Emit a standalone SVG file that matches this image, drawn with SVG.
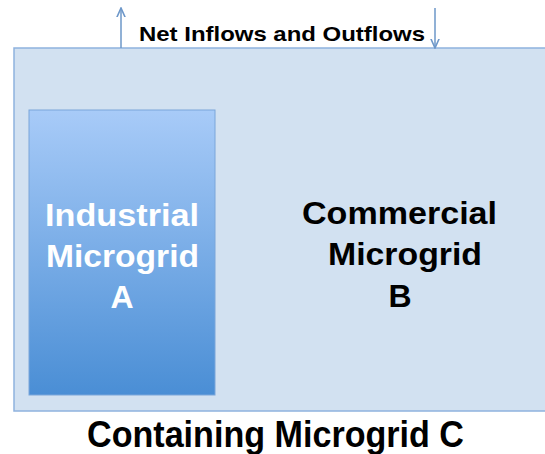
<svg xmlns="http://www.w3.org/2000/svg" width="545" height="454" viewBox="0 0 545 454">
<style>
.t{font-family:"Liberation Sans",Arial,sans-serif;font-weight:bold;text-anchor:middle}
.conn{stroke:#6d97c9;stroke-width:1.5;fill:none}
</style>
<defs>
<linearGradient id="g" x1="0" y1="0" x2="0" y2="1">
<stop offset="0" stop-color="#a8cbf8"/>
<stop offset="1" stop-color="#4a8ed5"/>
</linearGradient>
<marker id="ah" viewBox="0 0 10 10" refX="9" refY="5" markerWidth="7" markerHeight="7" orient="auto">
<path d="M0,1 L9,5 L0,9" fill="none" stroke="#6d97c9" stroke-width="1.5"/>
</marker>
</defs>
<rect width="545" height="454" fill="#fff"/>
<g id="containing">
<rect x="14" y="48" width="540" height="363" fill="#d2e1f1" stroke="#8fb2de" stroke-width="1.5"/>
<text class="t" x="275.5" y="447" font-size="36" fill="#000" textLength="377" lengthAdjust="spacingAndGlyphs">Containing Microgrid C</text>
</g>
<g id="industrial">
<rect x="29" y="110" width="186" height="285" fill="url(#g)" stroke="#7aa6da" stroke-width="1"/>
<text class="t" x="122" y="226" font-size="32" fill="#fff" textLength="154" lengthAdjust="spacingAndGlyphs">Industrial</text>
<text class="t" x="122.5" y="267" font-size="32" fill="#fff" textLength="153" lengthAdjust="spacingAndGlyphs">Microgrid</text>
<text class="t" x="122" y="308" font-size="32" fill="#fff">A</text>
</g>
<g id="commercial">
<text class="t" x="399.5" y="224" font-size="32" fill="#000" textLength="195" lengthAdjust="spacingAndGlyphs">Commercial</text>
<text class="t" x="405" y="265" font-size="32" fill="#000" textLength="154" lengthAdjust="spacingAndGlyphs">Microgrid</text>
<text class="t" x="400" y="307" font-size="32" fill="#000">B</text>
</g>
<g id="connectors">
<line class="conn" x1="121" y1="48" x2="121" y2="8" marker-end="url(#ah)"/>
<line class="conn" x1="435" y1="8" x2="435" y2="48" marker-end="url(#ah)"/>
</g>
<text class="t" x="282" y="41" font-size="21" fill="#000" textLength="286" lengthAdjust="spacingAndGlyphs">Net Inflows and Outflows</text>
</svg>
